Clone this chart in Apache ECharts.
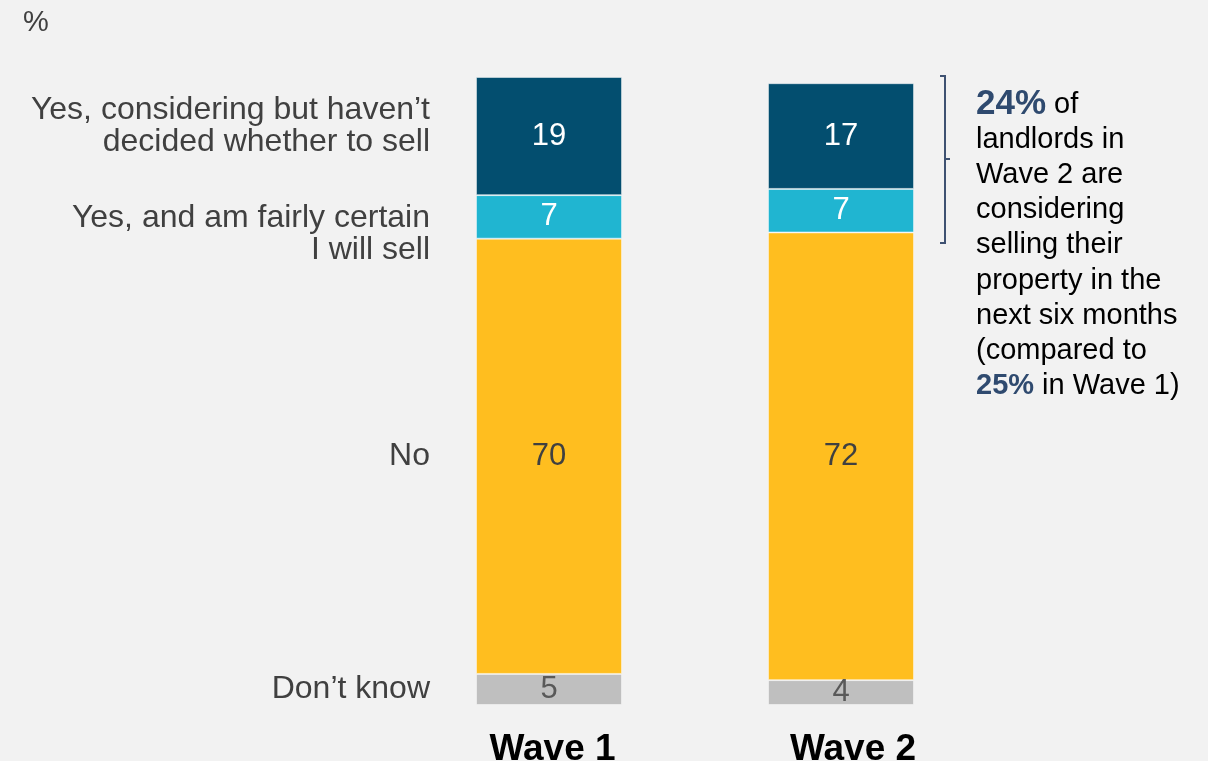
<!DOCTYPE html>
<html>
<head>
<meta charset="utf-8">
<script src="https://cdn.jsdelivr.net/npm/echarts@6/dist/echarts.min.js"></script>
<style>
  html, body { margin: 0; padding: 0; background: #f2f2f2; }
  #chart { width: 1208px; height: 761px; }
</style>
</head>
<body>
<div id="chart"></div>
<script>
// Survey waves shown as stacked columns
const waves = ['Wave 1', 'Wave 2'];

// Answer shares (%) per wave, bottom of the stack first
const dontKnow = [5, 4];
const no = [70, 72];
const yesCertain = [7, 7];
const yesConsidering = [19, 17];

// Answer names drawn to the left of the Wave 1 column
const answerNames = {
  dontKnow: 'Don’t know',
  no: 'No',
  yesCertain: 'Yes, and am fairly certain\nI will sell',
  yesConsidering: 'Yes, considering but haven’t\ndecided whether to sell'
};

const FONT = 'Arial, "Liberation Sans", Helvetica, sans-serif';
const BAR_W = 146;

function valueSeries(name, data, color, textColor) {
  return {
    name: name,
    type: 'bar',
    stack: 'answers',
    barWidth: BAR_W,
    data: data,
    itemStyle: { color: color, borderColor: 'rgba(255,255,255,0.45)', borderWidth: 1 },
    label: {
      show: true,
      position: 'inside',
      color: textColor,
      fontFamily: FONT,
      fontSize: 31
    },
    emphasis: { disabled: true }
  };
}

// Transparent twin of a Wave 1 segment that carries the answer name on its left
function nameSeries(name, data, offsetY) {
  return {
    name: name + '_name',
    type: 'bar',
    stack: 'names',
    barWidth: BAR_W,
    barGap: '-100%',
    data: [data[0], '-'],
    itemStyle: { color: 'rgba(0,0,0,0)' },
    label: {
      show: true,
      position: 'left',
      distance: 46,
      offset: [0, offsetY],
      formatter: name,
      align: 'right',
      color: '#404040',
      fontFamily: FONT,
      fontSize: 32,
      lineHeight: 32
    },
    emphasis: { disabled: true },
    silent: true,
    z: 3
  };
}

const chart = echarts.init(document.getElementById('chart'), null, { renderer: 'canvas' });

chart.setOption({
  backgroundColor: '#f2f2f2',
  animation: false,
  grid: { left: 403, width: 584, top: 77, bottom: 56, outerBoundsMode: 'none' },
  xAxis: {
    type: 'category',
    data: waves,
    axisLine: { show: false },
    axisTick: { show: false },
    axisLabel: {
      margin: 26,
      formatter: function (v, i) { return '{w' + i + '|' + v + '}'; },
      rich: {
        w0: {
          color: '#000000', fontFamily: FONT, fontWeight: 'bold', fontSize: 37,
          padding: [0, 0, 0, 7]
        },
        w1: {
          color: '#000000', fontFamily: FONT, fontWeight: 'bold', fontSize: 37,
          padding: [0, 0, 0, 24]
        }
      }
    }
  },
  yAxis: { type: 'value', min: 0, max: 101, show: false },
  series: [
    valueSeries(answerNames.dontKnow, dontKnow, '#bfbfbf', '#595959'),
    valueSeries(answerNames.no, no, '#ffbe1f', '#404040'),
    valueSeries(answerNames.yesCertain, yesCertain, '#20b5d1', '#ffffff'),
    valueSeries(answerNames.yesConsidering, yesConsidering, '#034e6f', '#ffffff'),
    nameSeries(answerNames.dontKnow, dontKnow, 0),
    nameSeries(answerNames.no, no, 0),
    nameSeries(answerNames.yesCertain, yesCertain, 17),
    nameSeries(answerNames.yesConsidering, yesConsidering, -10)
  ],
  graphic: [
    {
      type: 'text',
      left: 23,
      top: 8,
      style: { text: '%', fill: '#404040', font: '29px ' + FONT }
    },
    // Bracket grouping the two "Yes" answers for Wave 2
    {
      type: 'polyline',
      shape: { points: [[940, 76], [945, 76], [945, 243], [940, 243]] },
      style: { stroke: '#3f5272', lineWidth: 2, fill: null }
    },
    {
      type: 'line',
      shape: { x1: 945, y1: 159, x2: 950, y2: 159 },
      style: { stroke: '#3f5272', lineWidth: 2 }
    },
    {
      type: 'text',
      left: 976,
      top: 87,
      style: {
        text: '{big|24%} of\nlandlords in\nWave 2 are\nconsidering\nselling their\nproperty in the\nnext six months\n(compared to\n{b|25%} in Wave 1)',
        font: '29px ' + FONT,
        fill: '#000000',
        lineHeight: 35.2,
        rich: {
          big: { fontFamily: FONT, fontSize: 35, fontWeight: 'bold', fill: '#2f4a6f', lineHeight: 35.2 },
          b: { fontFamily: FONT, fontSize: 29, fontWeight: 'bold', fill: '#2f4a6f', lineHeight: 35.2 }
        }
      }
    }
  ]
});
</script>
</body>
</html>
